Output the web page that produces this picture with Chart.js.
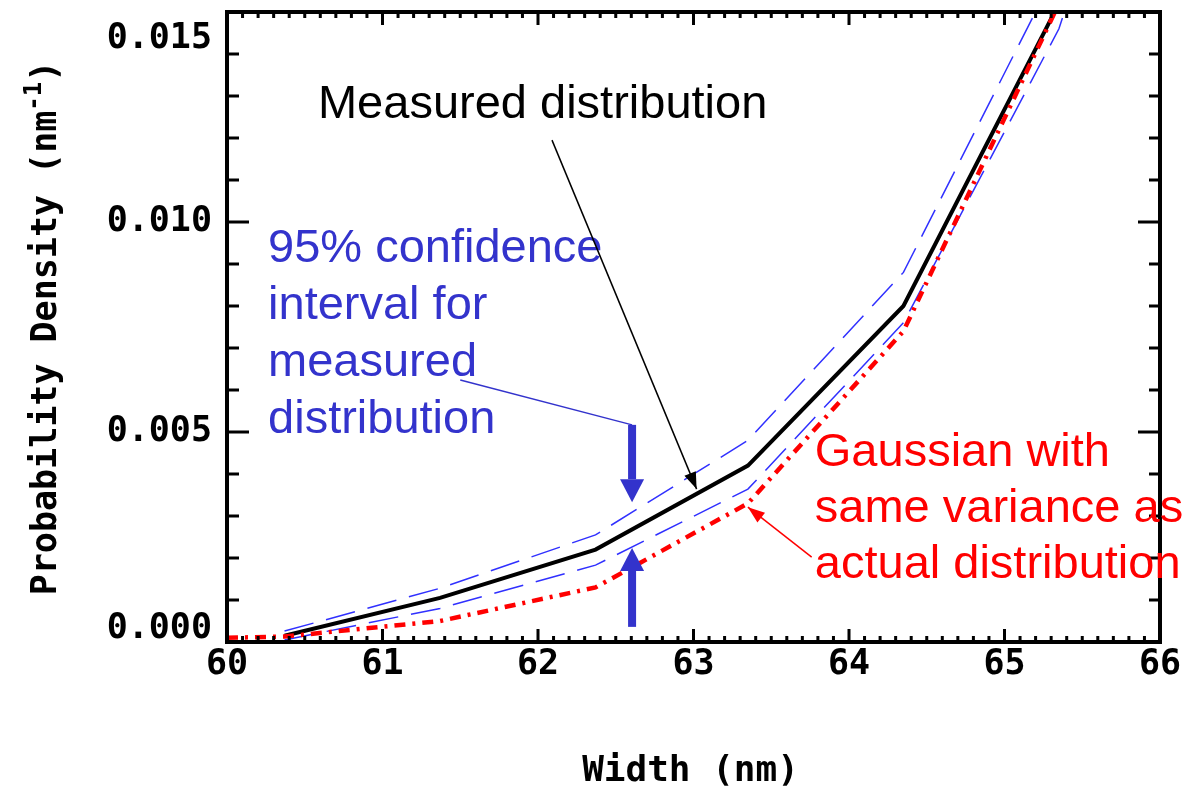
<!DOCTYPE html>
<html>
<head>
<meta charset="utf-8">
<script src="https://cdn.jsdelivr.net/npm/chart.js@4.4.1/dist/chart.umd.min.js"></script>
<style>
  body { margin: 0; background: #fff; }
  canvas { display: block; }
</style>
</head>
<body>
<canvas id="myChart" width="1191" height="788"></canvas>
<script>
// Bin centres (nm) where the curves were evaluated
const widthNm = [60.37, 61.37, 62.37, 63.35, 64.35, 65.35, 66.35];

// Measured distribution and its 95% confidence band
const measured = [0.00015, 0.00105, 0.0022, 0.0042, 0.0080, 0.0152, 0.026];
const upper95 = [0.00026, 0.00128, 0.00255, 0.0048, 0.0088, 0.0161, 0.028];
const lower95 = [0.00005, 0.0008, 0.00183, 0.00364, 0.0076, 0.0146, 0.026];

// Gaussian with the same variance
const gaussX = [60.0, 60.37, 61.37, 62.37, 63.35, 64.35, 65.35, 66.35];
const gaussY = [0.0001, 0.00013, 0.0005, 0.0013, 0.0033, 0.0074, 0.0152, 0.027];

// Axis ticks
const xTicks = [60, 61, 62, 63, 64, 65, 66];
const yTicks = [0.000, 0.005, 0.010, 0.015];

const ctx = document.getElementById('myChart');

function pts(xs, ys) {
  return xs.map((x, i) => ({ x: x, y: ys[i] }));
}

// Frame, inward ticks, tick labels, axis titles and the annotations
const decorPlugin = {
  id: 'decor',
  afterDraw(chart) {
    const c = chart.ctx;
    const a = chart.chartArea;
    const xs = chart.scales.x;
    const ys = chart.scales.y;
    const px = v => xs.getPixelForValue(v);
    const py = v => ys.getPixelForValue(v);
    c.save();

    // frame
    c.strokeStyle = '#000';
    c.lineWidth = 4;
    c.strokeRect(a.left, a.top, a.right - a.left, a.bottom - a.top);

    // x minor / major ticks (bottom and top)
    c.lineWidth = 3;
    c.beginPath();
    for (let i = 0; i <= 60; i++) {
      const x = px(60 + i * 0.1);
      const major = i % 10 === 0;
      c.moveTo(x, a.bottom); c.lineTo(x, a.bottom - (major ? 13 : 6));
      c.moveTo(x, a.top); c.lineTo(x, a.top + (major ? 13 : 6));
    }
    // y minor / major ticks (left and right)
    for (let i = 0; i <= 15; i++) {
      const y = py(i * 0.001);
      const major = i % 5 === 0;
      c.moveTo(a.left, y); c.lineTo(a.left + (major ? 22 : 12), y);
      c.moveTo(a.right, y); c.lineTo(a.right - (major ? 22 : 11), y);
    }
    c.stroke();

    // tick labels
    c.fillStyle = '#000';
    c.font = 'bold 35px "DejaVu Sans Mono"';
    c.textAlign = 'center';
    c.textBaseline = 'middle';
    xTicks.forEach(v => c.fillText(String(v), px(v), a.bottom + 23));
    c.textAlign = 'right';
    yTicks.forEach(v => {
      const y = Math.min(Math.max(py(v), a.top + 27), a.bottom - 13);
      c.fillText(v.toFixed(3), a.left - 15, y);
    });

    // axis titles
    c.textAlign = 'center';
    c.textBaseline = 'alphabetic';
    c.font = 'bold 36px "DejaVu Sans Mono"';
    c.fillText('Width (nm)', (a.left + a.right) / 2 - 3, 781);

    c.save();
    c.translate(56, 328);
    c.rotate(-Math.PI / 2);
    const main = 'Probability Density (nm';
    c.font = 'bold 35px "DejaVu Sans Mono"';
    const w1 = c.measureText(main).width;
    c.font = 'bold 24px "DejaVu Sans Mono"';
    const w2 = c.measureText('-1').width;
    c.font = 'bold 35px "DejaVu Sans Mono"';
    const w3 = c.measureText(')').width;
    let x0 = -(w1 + w2 + w3) / 2;
    c.textAlign = 'left';
    c.fillText(main, x0, 0);
    c.font = 'bold 24px "DejaVu Sans Mono"';
    c.fillText('-1', x0 + w1, -15);
    c.font = 'bold 35px "DejaVu Sans Mono"';
    c.fillText(')', x0 + w1 + w2, 0);
    c.restore();

    // annotation texts
    c.font = '47px "Liberation Sans"';
    c.textAlign = 'left';
    c.textBaseline = 'alphabetic';
    c.fillStyle = '#000';
    c.fillText('Measured distribution', px(60.585), py(0.01248));

    c.fillStyle = '#3333cc';
    ['95% confidence', 'interval for', 'measured', 'distribution'].forEach((t, i) => {
      c.fillText(t, px(60.264), py(0.00905) + i * 57);
    });

    c.fillStyle = '#ff0000';
    ['Gaussian with', 'same variance as', 'actual distribution'].forEach((t, i) => {
      c.fillText(t, px(63.78), py(0.00419) + i * 56);
    });

    // thin leader lines with arrow heads
    function leader(x1, y1, x2, y2, color, head) {
      const ax = px(x1), ay = py(y1), bx = px(x2), by = py(y2);
      c.strokeStyle = color;
      c.fillStyle = color;
      c.lineWidth = 1.5;
      c.beginPath(); c.moveTo(ax, ay); c.lineTo(bx, by); c.stroke();
      if (head) {
        const ang = Math.atan2(by - ay, bx - ax);
        c.beginPath();
        c.moveTo(bx, by);
        c.lineTo(bx - 18 * Math.cos(ang - 0.35), by - 18 * Math.sin(ang - 0.35));
        c.lineTo(bx - 18 * Math.cos(ang + 0.35), by - 18 * Math.sin(ang + 0.35));
        c.closePath();
        c.fill();
      }
    }
    leader(62.09, 0.01195, 63.02, 0.00364, '#000', true);
    leader(63.76, 0.00202, 63.35, 0.00321, '#ff0000', true);
    leader(61.5, 0.00624, 62.605, 0.00517, '#3333cc', false);

    // thick blue block arrows
    function block(x, yFrom, yTo) {
      const cx = px(x), y1 = py(yFrom), y2 = py(yTo);
      const dir = y2 > y1 ? 1 : -1;
      const base = y2 - dir * 23;
      c.fillStyle = '#3333cc';
      c.fillRect(cx - 4, Math.min(y1, base), 8, Math.abs(base - y1));
      c.beginPath();
      c.moveTo(cx - 12, base);
      c.lineTo(cx + 12, base);
      c.lineTo(cx, y2);
      c.closePath();
      c.fill();
    }
    block(62.605, 0.00517, 0.00333);
    block(62.605, 0.00036, 0.00224);

    c.restore();
  }
};

new Chart(ctx, {
  type: 'scatter',
  data: {
    datasets: [
      {
        label: 'Gaussian',
        data: pts(gaussX, gaussY),
        showLine: true,
        borderColor: '#ff0000',
        borderWidth: 4.5,
        borderDash: [11, 7, 3, 7],
        borderCapStyle: 'butt',
        pointRadius: 0
      },
      {
        label: 'Upper 95%',
        data: pts(widthNm, upper95),
        showLine: true,
        borderColor: '#3030ff',
        borderWidth: 1.5,
        borderDash: [30, 13],
        pointRadius: 0
      },
      {
        label: 'Lower 95%',
        data: pts(widthNm, lower95),
        showLine: true,
        borderColor: '#3030ff',
        borderWidth: 1.5,
        borderDash: [30, 13],
        pointRadius: 0
      },
      {
        label: 'Measured',
        data: pts(widthNm, measured),
        showLine: true,
        borderColor: '#000',
        borderWidth: 4,
        pointRadius: 0
      }
    ]
  },
  options: {
    responsive: false,
    animation: false,
    devicePixelRatio: 1,
    layout: { padding: { left: 227, right: 31, top: 12, bottom: 146 } },
    plugins: { legend: { display: false }, tooltip: { enabled: false } },
    scales: {
      x: { type: 'linear', min: 60, max: 66, display: false },
      y: { type: 'linear', min: 0, max: 0.015, display: false }
    }
  },
  plugins: [decorPlugin]
});
</script>
</body>
</html>
